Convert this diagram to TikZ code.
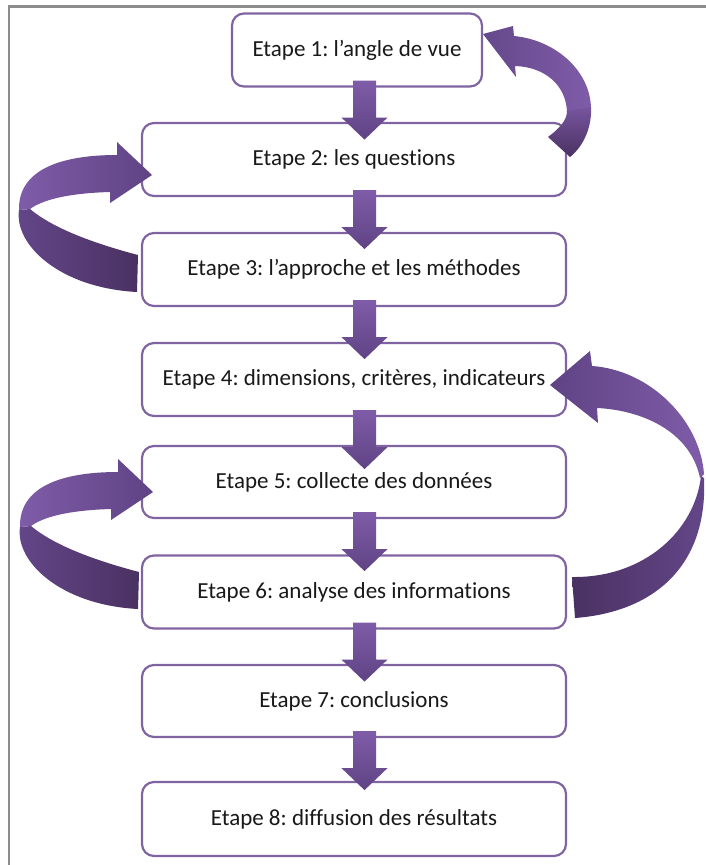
\documentclass[tikz,border=0pt]{standalone}
\usepackage{fontspec}
\setmainfont{Carlito}[Ligatures=NoCommon]
\usetikzlibrary{calc}
\frenchspacing
\definecolor{boxpurple}{HTML}{8064A2}
\definecolor{plight}{HTML}{7F5CA8}
\definecolor{pmid}{HTML}{5F4384}
\definecolor{pdark}{HTML}{4A3162}
\definecolor{framegray}{HTML}{8C8C8C}
\newcommand\downarr[2]{%
  \shade[top color=plight, bottom color=pmid]
    let \p1=(#1.south -| ax), \p2=(#2.north -| ax) in
    (\x1-11.5pt,\y1+7pt) -- (\x1+11.5pt,\y1+7pt) -- (\x1+11.5pt,\y1-30pt) --
    (\x1+23pt,\y1-30pt) -- (\x1,\y1-52pt) -- (\x1-23pt,\y1-30pt) --
    (\x1-11.5pt,\y1-30pt) -- cycle;}
\newcommand\leftloop{%
  \shade[left color=pmid!85!plight, right color=pdark]
    (138,255) .. controls (100,245) and (55,230) .. (30,209) -- (19,210)
    .. controls (14,245) and (60,288) .. (137,292) -- cycle;
  \shade[left color=plight, right color=pmid]
    (19,210) .. controls (18,170) and (60,155) .. (117,155) -- (117,142) -- (152,175)
    -- (110,203) -- (110,192) .. controls (75,193) and (45,198) .. (30,209) -- cycle;}
\begin{document}
\begin{tikzpicture}[x=1pt,y=-1pt,
  stepbox/.style={draw=boxpurple, line width=2.2pt, rounded corners=12pt, fill=white,
    minimum height=73pt, minimum width=424pt, inner sep=0pt,
    font=\fontsize{23}{26}\selectfont, text=black!90}]
\useasboundingbox (0,0) rectangle (705,865);
\draw[framegray, line width=2.5pt] (9,866) -- (9,6.5) -- (706,6.5);
\coordinate (ax) at (364.5,0);
\node[stepbox, minimum width=250pt] (b1) at (357,50) {Etape 1: l’angle de vue};
\node[stepbox] (b2) at (354,159.5) {Etape 2: les questions};
\node[stepbox] (b3) at (354,269.5) {Etape 3: l’approche et les méthodes};
\node[stepbox] (b4) at (354,379.5) {Etape 4: dimensions, critères, indicateurs};
\node[stepbox, minimum height=72pt] (b5) at (354,482) {Etape 5: collecte des données};
\node[stepbox] (b6) at (354,592) {Etape 6: analyse des informations};
\node[stepbox, minimum height=72pt] (b7) at (354,701) {Etape 7: conclusions};
\node[stepbox, minimum height=74pt] (b8) at (354,819) {Etape 8: diffusion des résultats};
% down arrows
\downarr{b1}{b2}
\downarr{b2}{b3}
\downarr{b3}{b4}
\downarr{b4}{b5}
\downarr{b5}{b6}
\downarr{b6}{b7}
\downarr{b7}{b8}
% left loops: b3 -> b2 and b6 -> b5
\leftloop
\begin{scope}[yshift=-317pt, xshift=1pt]
\leftloop
\end{scope}
% right big loop: b6 -> b4
\shade[left color=pmid, right color=plight]
  (592,366) .. controls (650,370) and (700,420) .. (704,474) -- (700,478)
  .. controls (690,430) and (640,410) .. (597,408) -- (598,423) -- (550,385)
  -- (590,351) -- cycle;
\shade[left color=pdark, right color=pmid!85!plight]
  (701,476) .. controls (695,530) and (645,578) .. (572,577) -- (575,618)
  .. controls (655,612) and (708,565) .. (704,478) -- cycle;
% top right loop: b2 -> b1
\shade[left color=pmid!80!plight, right color=plight]
  (483,34) -- (513,26) -- (514,36) .. controls (555,40) and (590,70) .. (591,108)
  -- (567,112) .. controls (566,85) and (545,67) .. (515,66) -- (516,77) -- cycle;
\shade[top color=plight!85!pdark, bottom color=pdark]
  (591,107) .. controls (592,125) and (585,145) .. (570,157) -- (548,137)
  .. controls (560,128) and (567,120) .. (567,111) -- cycle;
\end{tikzpicture}
\end{document}
